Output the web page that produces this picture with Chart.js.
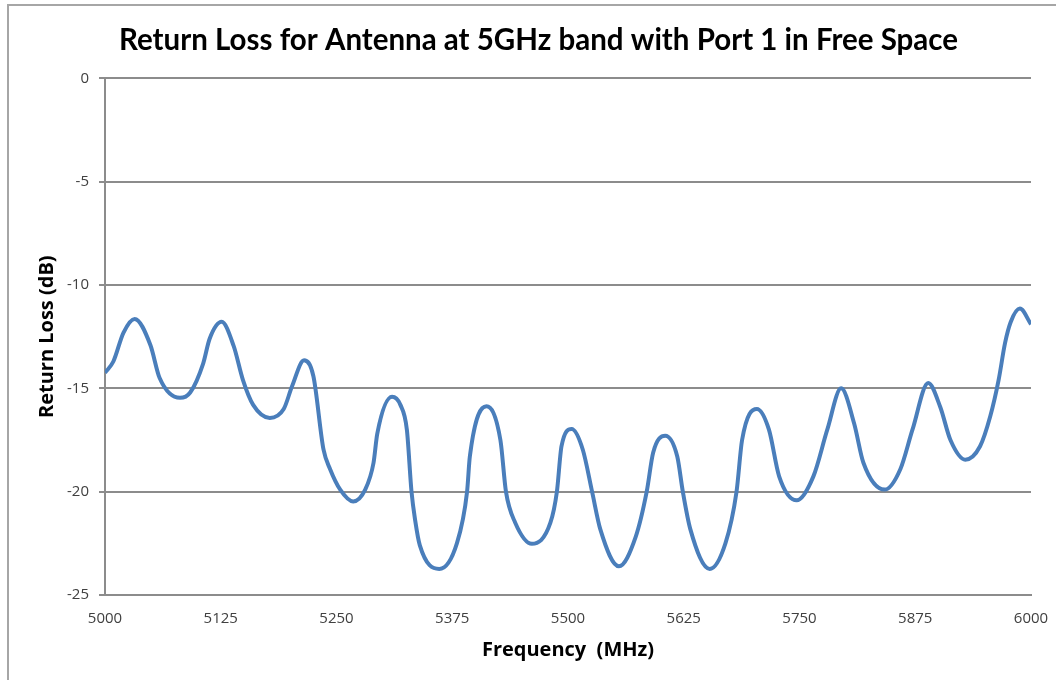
<!DOCTYPE html>
<html>
<head>
<meta charset="utf-8">
<title>Return Loss</title>
<script src="https://cdn.jsdelivr.net/npm/chart.js@4"></script>
<style>
  html, body { margin: 0; padding: 0; background: #fff; }
  #frame {
    position: absolute; left: 7px; top: 4px; width: 1200px; height: 800px;
    border-left: 2px solid #a6a6a6; border-top: 2px solid #a6a6a6;
  }
  #wrap { position: absolute; left: 0; top: 0; width: 1056px; height: 680px; }
</style>
</head>
<body>
<div id="frame"></div>
<div id="wrap"><canvas id="rlChart" width="1056" height="680"></canvas></div>
<script>
// frequency samples (MHz) and return loss (dB)
const freq = [
  5000, 5009, 5020, 5032, 5049, 5059, 5081, 5092, 5106, 5113,
  5126, 5139, 5149, 5160, 5178, 5193, 5202, 5215, 5225, 5236,
  5243, 5254, 5268, 5281, 5290, 5294, 5310, 5319, 5326, 5331,
  5335, 5340, 5361, 5380, 5391, 5394, 5412, 5427, 5433, 5443,
  5461, 5481, 5488, 5493, 5504, 5516, 5526, 5535, 5555, 5573,
  5585, 5592, 5605, 5618, 5624, 5632, 5653, 5670, 5682, 5688,
  5704, 5717, 5728, 5747, 5765, 5780, 5795, 5809, 5819, 5842,
  5859, 5872, 5889, 5902, 5913, 5929, 5945, 5956, 5965, 5972,
  5978, 5988, 6000
];
const returnLoss = [
  -14.25, -13.7, -12.3, -11.64, -12.9, -14.5, -15.46, -15.2, -13.8, -12.6,
  -11.78, -12.96, -14.6, -15.8, -16.43, -16.0, -14.9, -13.64, -14.4, -17.97,
  -18.9, -19.9, -20.47, -19.9, -18.6, -17.2, -15.41, -15.8, -17.0, -20.0,
  -21.4, -22.6, -23.74, -22.5, -20.0, -18.3, -15.87, -17.5, -20.0, -21.5,
  -22.52, -21.5, -20.0, -17.8, -16.97, -17.97, -20.0, -21.84, -23.61, -22.2,
  -20.0, -18.1, -17.29, -18.3, -20.0, -21.8, -23.74, -22.5, -20.0, -17.5,
  -16.0, -17.0, -19.26, -20.42, -19.26, -17.0, -15.0, -16.7, -18.6, -19.9,
  -18.9, -17.0, -14.74, -15.9, -17.5, -18.45, -17.8, -16.35, -14.6, -12.8,
  -11.8, -11.14, -11.9
];

const chartTitle = 'Return Loss for Antenna at 5GHz band with Port 1 in Free Space';
const xTitle = 'Frequency  (MHz)';
const yTitle = 'Return Loss (dB)';

const points = freq.map((f, i) => ({ x: f, y: returnLoss[i] }));

const ctx = document.getElementById('rlChart').getContext('2d');
new Chart(ctx, {
  type: 'line',
  data: {
    datasets: [
      {
        label: 'Return Loss',
        data: points,
        borderColor: '#4a7ebb',
        borderWidth: 4,
        pointRadius: 0,
        cubicInterpolationMode: 'monotone',
        fill: false,
      },
    ],
  },
  options: {
    responsive: false,
    animation: false,
    // left padding shifts the centred title to where the reference has it
    layout: { padding: { left: 46, right: 25, top: 0, bottom: 0 } },
    plugins: {
      legend: { display: false },
      tooltip: { enabled: false },
      title: {
        display: true,
        text: chartTitle,
        color: '#000',
        font: { family: 'Lato', size: 29.5, weight: 'bold' },
        padding: { top: 23, bottom: 20 },
      },
    },
    scales: {
      x: {
        type: 'linear',
        min: 5000,
        max: 6000,
        afterFit: (scale) => {
          scale.height = 85;
          scale.paddingLeft = 0;
          scale.paddingRight = 0;
        },
        ticks: {
          stepSize: 125,
          color: '#404040',
          font: { family: 'Open Sans', size: 15 },
          padding: 15,
          maxRotation: 0,
          callback: (v) => String(v),
        },
        grid: { display: false, drawTicks: false },
        border: { display: true, color: '#8c8c8c', width: 2 },
        title: {
          display: true,
          text: xTitle,
          color: '#000',
          font: { family: 'Open Sans', size: 20, weight: 'bold' },
          padding: { top: 4, bottom: 18 },
        },
      },
      y: {
        min: -25,
        max: 0,
        afterFit: (scale) => { scale.width = 59; },
        ticks: {
          stepSize: 5,
          color: '#404040',
          font: { family: 'Open Sans', size: 15 },
          padding: 10,
          callback: (v) => String(v),
        },
        grid: { color: '#8c8c8c', lineWidth: 2, tickLength: 6 },
        border: { display: true, color: '#8c8c8c', width: 2 },
        title: {
          display: true,
          text: yTitle,
          color: '#000',
          font: { family: 'Open Sans', size: 20, weight: 'bold' },
          padding: { top: -11, bottom: 6 },
        },
      },
    },
  },
});
</script>
</body>
</html>
